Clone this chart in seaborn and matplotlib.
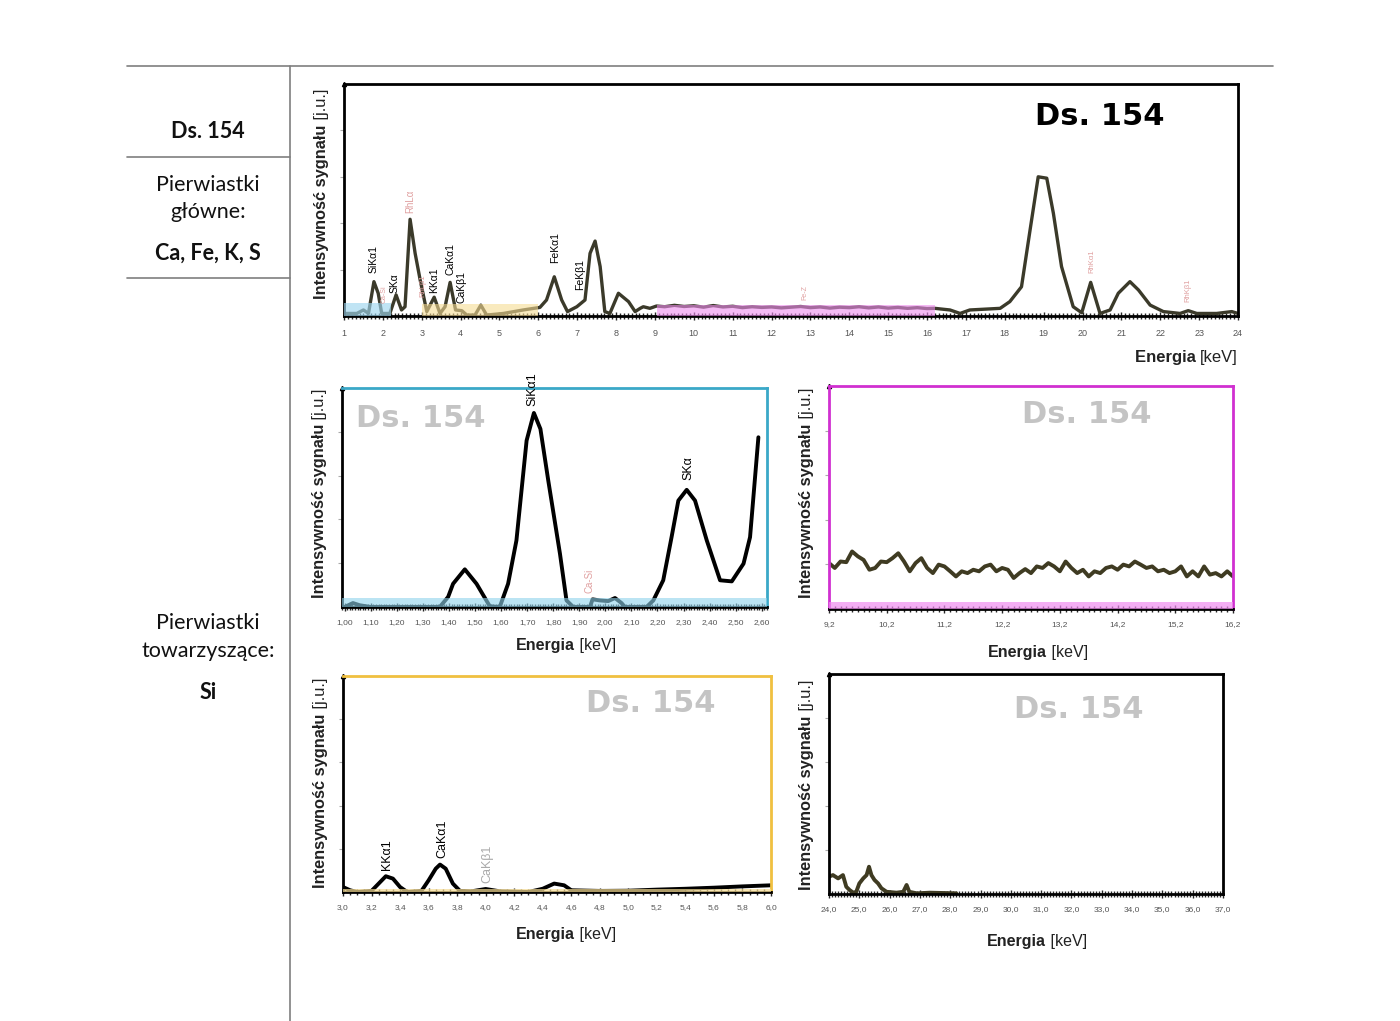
import matplotlib
matplotlib.use('Agg')
import numpy as np
import matplotlib.pyplot as plt
import seaborn as sns
from matplotlib.ticker import MultipleLocator, FuncFormatter
from matplotlib.lines import Line2D

sns.set_style('white')
plt.rcParams['font.family'] = ['Liberation Sans', 'DejaVu Sans']

# --- data (intensity in % of panel height) ---
top_e = [1.03, 1.33, 1.50, 1.63, 1.77, 1.88, 1.97, 2.18, 2.34, 2.48, 2.57, 2.70, 2.83, 2.96,
         3.13, 3.32, 3.47, 3.60, 3.73, 3.87, 4.03, 4.16, 4.37, 4.52, 4.67, 5.10, 5.61, 6.04,
         6.21, 6.41, 6.60, 6.75, 6.99, 7.20, 7.33, 7.46, 7.59, 7.71, 7.84, 8.06, 8.32, 8.49,
         8.62, 8.70, 8.87, 9.04, 9.25, 9.5, 9.75, 10.0, 10.25, 10.5, 10.75, 11.0, 11.25, 11.5,
         11.75, 12.0, 12.25, 12.5, 12.75, 13.0, 13.25, 13.5, 13.75, 14.0, 14.25, 14.5, 14.75,
         15.0, 15.25, 15.5, 15.75, 16.0, 16.2, 16.59, 16.85, 17.1, 17.88, 18.13, 18.43, 18.65,
         18.86, 19.08, 19.25, 19.46, 19.76, 19.98, 20.21, 20.45, 20.71, 20.92, 21.22, 21.44,
         21.74, 22.08, 22.51, 22.72, 22.94, 23.45, 23.84, 24.0]
top_i = [1.1, 1.1, 2.6, 1.1, 14.8, 9.8, 1.1, 1.1, 9.1, 2.6, 4.0, 41.7, 27.0, 15.5,
         1.9, 8.1, 1.1, 4.0, 14.5, 2.6, 2.3, 0.4, 0.4, 4.7, 0.4, 1.1, 2.6, 3.7,
         6.9, 16.9, 6.9, 1.9, 4.0, 6.9, 27.0, 32.3, 21.3, 1.9, 1.1, 9.8, 6.2, 1.9,
         3.3, 4.0, 3.3, 4.3, 4.0, 4.6, 4.1, 4.4, 3.8, 4.5, 3.9, 4.2, 3.6, 4.0,
         3.7, 3.9, 3.5, 3.8, 4.1, 3.6, 3.9, 3.4, 3.8, 3.6, 4.0, 3.5, 3.9,
         3.4, 3.7, 3.3, 3.6, 3.2, 3.3, 2.6, 1.1, 2.6, 3.3, 6.2, 12.6, 37.0,
         60.0, 59.4, 44.3, 21.3, 4.0, 1.4, 14.5, 1.1, 2.6, 9.8, 14.8, 11.2,
         4.7, 1.9, 1.1, 2.3, 1.1, 1.1, 1.9, 1.1]

si_e = [1.00, 1.032, 1.058, 1.10, 1.20, 1.30, 1.365, 1.397, 1.416, 1.461, 1.506, 1.557, 1.595,
        1.627, 1.659, 1.698, 1.726, 1.751, 1.781, 1.826, 1.851, 1.877, 1.941, 1.951, 1.979,
        2.011, 2.037, 2.062, 2.075, 2.158, 2.184, 2.222, 2.254, 2.28, 2.312, 2.344, 2.389,
        2.44, 2.485, 2.53, 2.555, 2.587]
si_i = [0.0, 1.8, 0.8, 0.0, 0.0, 0.0, 0.0, 4.6, 10.6, 17.2, 10.6, 0.3, 0.0,
        10.6, 30.4, 76.0, 88.6, 81.3, 57.8, 24.3, 3.0, 0.0, 0.0, 3.5, 3.0,
        2.7, 4.1, 1.8, 0.0, 0.0, 3.0, 12.2, 31.9, 48.6, 53.5, 48.6, 30.4,
        12.2, 11.7, 19.8, 31.9, 77.5]

fe_i = [20.6, 18.4, 21.3, 21.0, 25.8, 23.6, 22.0, 17.6, 18.4, 21.3, 21.0, 22.8, 25.0, 21.3,
        16.9, 20.6, 22.8, 18.4, 16.1, 19.9, 19.1, 16.9, 14.6, 16.9, 16.1, 17.6, 16.9, 19.1,
        19.9, 16.9, 18.4, 17.6, 13.9, 16.1, 17.9, 16.1, 19.1, 18.4, 20.6, 19.1, 16.9, 21.3,
        18.4, 16.1, 17.6, 14.6, 16.9, 16.1, 18.4, 19.1, 17.6, 19.9, 19.1, 21.3, 19.9, 18.4,
        19.1, 16.9, 17.6, 16.1, 16.9, 19.1, 14.6, 16.9, 14.6, 19.1, 15.4, 16.1, 14.6, 16.9, 14.6]
fe_e = np.round(9.2 + 0.1 * np.arange(len(fe_i)), 1)

ca_e = [3.0, 3.05, 3.1, 3.2, 3.25, 3.3, 3.35, 3.4, 3.45, 3.55, 3.6, 3.65, 3.68, 3.72, 3.77,
        3.82, 3.9, 4.0, 4.1, 4.3, 4.4, 4.48, 4.55, 4.6, 4.8, 5.0, 5.2, 5.4, 5.6, 5.8, 6.0]
ca_i = [2.3, 0.8, 0.0, 0.5, 3.9, 7.3, 6.2, 2.3, 0.0, 0.5, 5.4, 10.8, 12.7, 10.8, 3.9,
        0.5, 0.3, 1.4, 0.3, 0.0, 1.5, 3.9, 3.1, 0.8, 0.5, 0.6, 1.1, 1.5, 2.0, 2.6, 3.1]

hi_e = [24.0, 24.13, 24.3, 24.46, 24.57, 24.68, 24.8, 24.9, 25.0, 25.13, 25.24, 25.32, 25.4,
        25.5, 25.62, 25.73, 25.9, 26.23, 26.45, 26.56, 26.65, 26.9, 27.33, 28.2]
hi_i = [7.9, 8.6, 7.1, 8.6, 3.3, 1.8, 0.6, 1.0, 4.8, 7.1, 8.6, 12.4, 8.6,
        6.4, 4.8, 2.6, 1.0, 0.6, 1.0, 4.1, 1.0, 0.3, 0.6, 0.3]

top_lbl = [(1.75, 18.5, 'SiKα1', 'k', 7.5), (2.31, 10.0, 'SKα', 'k', 7.5),
           (2.70, 44.4, 'RhLα', '#e0a0a0', 7), (2.03, 5.6, 'Ca-Si', '#e0a0a0', 5),
           (3.03, 8.2, 'RhLβ1', '#e0a0a0', 5.5), (3.31, 10.0, 'KKα1', 'k', 7.5),
           (3.73, 17.7, 'CaKα1', 'k', 7.5), (4.03, 5.6, 'CaKβ1', 'k', 7.5),
           (6.43, 23.0, 'FeKα1', 'k', 7.5), (7.07, 11.0, 'FeKβ1', 'k', 7.5),
           (12.86, 7.0, 'Fe-Z', '#e0a0a0', 5), (20.24, 18.5, 'RhKα1', '#e0a0a0', 5.5),
           (22.71, 6.0, 'RhKβ1', '#e0a0a0', 5.5)]
si_lbl = [(1.72, 92.0, 'SiKα1', 'k', 9), (2.32, 57.9, 'SKα', 'k', 9),
          (1.94, 6.3, 'Ca-Si', '#e0a0a0', 7)]
ca_lbl = [(3.31, 10.0, 'KKα1', 'k', 9), (3.70, 15.6, 'CaKα1', 'k', 9),
          (4.01, 4.0, 'CaKβ1', '#aaaaaa', 9)]

fig = plt.figure(figsize=(14, 10.21), dpi=100)


def add_ax(l, t, r, b):
    return fig.add_axes([l / 1400, 1 - b / 1021, (r - l) / 1400, (b - t) / 1021])


def comma(fmt):
    return FuncFormatter(lambda v, p: fmt.format(v).replace('.', ','))


def style(ax, edge, xlim, ticks, minor, fmt, lblsize):
    ax.set_xlim(*xlim)
    ax.set_ylim(0, 100)
    for k, s in ax.spines.items():
        s.set_visible(True)
        s.set_linewidth(2)
        s.set_color(edge if k in ('top', 'right') else 'black')
    ax.set_xticks(ticks)
    ax.xaxis.set_minor_locator(MultipleLocator(minor))
    ax.xaxis.set_major_formatter(comma(fmt))
    ax.tick_params(axis='x', which='major', direction='inout', length=6, width=1,
                   labelsize=lblsize, labelcolor='#555555', pad=6)
    ax.tick_params(axis='x', which='minor', direction='inout', length=5, width=1)
    ax.xaxis.set_tick_params(bottom=True, which='both')
    ax.set_yticks(np.arange(20, 100, 20))
    ax.tick_params(axis='y', length=3, color='#aaaaaa', labelleft=False, left=True)
    ax.set_xlabel('')
    ax.set_ylabel('')
    ax.plot([0], [1], marker='^', color='k', ms=3, transform=ax.transAxes, clip_on=False)


def ylab(ax, yb):
    t = ax.annotate('Intensywność sygnału', xy=(0, yb), xycoords='axes fraction',
                    xytext=(-16, 0), textcoords='offset points', rotation=90,
                    ha='center', va='bottom', fontsize=11.8, fontweight='bold', color='#222222')
    ax.annotate(' [j.u.]', xy=(0.5, 1), xycoords=t, rotation=90, ha='center',
                va='bottom', fontsize=11.8, color='#222222')


def xlab(ax, xc, yb, right=False):
    if right:
        t2 = ax.text(1.0, yb, '[keV]', transform=ax.transAxes, ha='right', va='baseline',
                     fontsize=12, color='#222222')
        ax.annotate('Energia ', xy=(0, yb), xycoords=(t2, ax.transAxes), ha='right',
                    va='baseline', fontsize=12, fontweight='bold', color='#222222')
    else:
        t1 = ax.annotate('Energia', xy=(xc, yb), xycoords='axes fraction', xytext=(10, 0),
                         textcoords='offset points', ha='right', va='baseline',
                         fontsize=11.5, fontweight='bold', color='#222222')
        ax.annotate(' [keV]', xy=(1, yb), xycoords=(t1, ax.transAxes), ha='left',
                    va='baseline', fontsize=11.5, color='#222222')


def labels(ax, items):
    for x, y, s, c, fs in items:
        ax.text(x, y, s, rotation=90, ha='center', va='bottom', color=c, fontsize=fs,
                clip_on=False)


def stamp(ax, x, y, color, size):
    ax.text(x, y, 'Ds. 154', transform=ax.transAxes, ha='center', va='center',
            fontsize=size, fontweight='bold', color=color, family='DejaVu Sans')


# --- top: full spectrum ---
ax = add_ax(344, 84, 1238, 316)
sns.lineplot(x=top_e, y=top_i, ax=ax, color='#3b3a2a', lw=2.4, zorder=2)
ax.axvspan(1.0, 2.2, ymax=0.056, color='#9fd6ef', alpha=0.65, lw=0, zorder=3)
ax.axvspan(3.0, 6.0, ymax=0.05, color='#f6dc94', alpha=0.6, lw=0, zorder=3)
ax.axvspan(9.05, 16.2, ymax=0.047, color='#ee8cee', alpha=0.6, lw=0, zorder=3)
style(ax, 'black', (1, 24), list(range(1, 25)), 0.1, '{:.0f}', 6.5)
labels(ax, top_lbl)
stamp(ax, 0.845, 0.858, 'black', 22)
ylab(ax, 0.075)
xlab(ax, 1.0, -0.2, right=True)

# --- middle left: Si region ---
ax = add_ax(342, 388, 767, 607)
sns.lineplot(x=si_e, y=si_i, ax=ax, color='black', lw=2.8, zorder=2)
ax.axhspan(0, 4, color='#8fd3ec', alpha=0.6, lw=0, zorder=3)
style(ax, '#3aa8c8', (0.99, 2.62), np.round(np.arange(1.0, 2.65, 0.1), 2), 0.01, '{:.2f}', 6)
labels(ax, si_lbl)
stamp(ax, 0.186, 0.863, '#c4c4c4', 22)
ylab(ax, 0.04)
xlab(ax, 0.515, -0.196)

# --- middle right: 9.2-16.2 keV ---
ax = add_ax(829, 386, 1233, 609)
sns.lineplot(x=fe_e, y=fe_i, ax=ax, color='#3f3b22', lw=2.8, zorder=2)
ax.axhspan(0, 3, color='#f08cf0', alpha=0.7, lw=0, zorder=3)
style(ax, '#d030d0', (9.2, 16.2), np.round(np.arange(9.2, 16.25, 1.0), 1), 0.1, '{:.1f}', 6)
ax.spines['left'].set_color('#d030d0')
stamp(ax, 0.639, 0.874, '#c4c4c4', 22)
ylab(ax, 0.05)
xlab(ax, 0.505, -0.215)

# --- bottom left: K/Ca region ---
ax = add_ax(343, 676, 771, 892)
sns.lineplot(x=ca_e, y=ca_i, ax=ax, color='black', lw=2.8, zorder=2)
ax.axhspan(0, 1.5, color='#f6dc94', alpha=0.7, lw=0, zorder=3)
style(ax, '#f0c040', (3.0, 6.0), np.round(np.arange(3.0, 6.05, 0.2), 1), 0.05, '{:.1f}', 6)
labels(ax, ca_lbl)
stamp(ax, 0.72, 0.875, '#c4c4c4', 22)
ylab(ax, 0.02)
xlab(ax, 0.509, -0.218)

# --- bottom right: 24-37 keV ---
ax = add_ax(829, 674, 1223, 894)
sns.lineplot(x=hi_e, y=hi_i, ax=ax, color='#3f3b22', lw=2.8, zorder=2)
style(ax, 'black', (24, 37), list(range(24, 38)), 0.1, '{:.1f}', 6)
stamp(ax, 0.635, 0.84, '#c4c4c4', 22)
ylab(ax, 0.02)
xlab(ax, 0.515, -0.236)

# --- table frame and left column ---
def fline(x0, y0, x1, y1):
    fig.add_artist(Line2D([x0 / 1400, x1 / 1400], [1 - y0 / 1021, 1 - y1 / 1021],
                          color='#7f7f7f', lw=1.2))


fline(127, 66, 1273, 66)
fline(290, 66, 290, 1021)
fline(127, 157, 290, 157)
fline(127, 278, 290, 278)

side = [(132, 'Ds. 154', 'bold'), (185, 'Pierwiastki', 'normal'), (212, 'główne:', 'normal'),
        (253, 'Ca, Fe, K, S', 'bold'), (623, 'Pierwiastki', 'normal'),
        (651, 'towarzyszące:', 'normal'), (692, 'Si', 'bold')]
for y, s, w in side:
    fig.text(208 / 1400, 1 - y / 1021, s, ha='center', va='center', fontsize=15.5,
             fontweight=w, family=['Lato', 'DejaVu Sans'], color='#111111')

fig.savefig('out.png', dpi=100)
